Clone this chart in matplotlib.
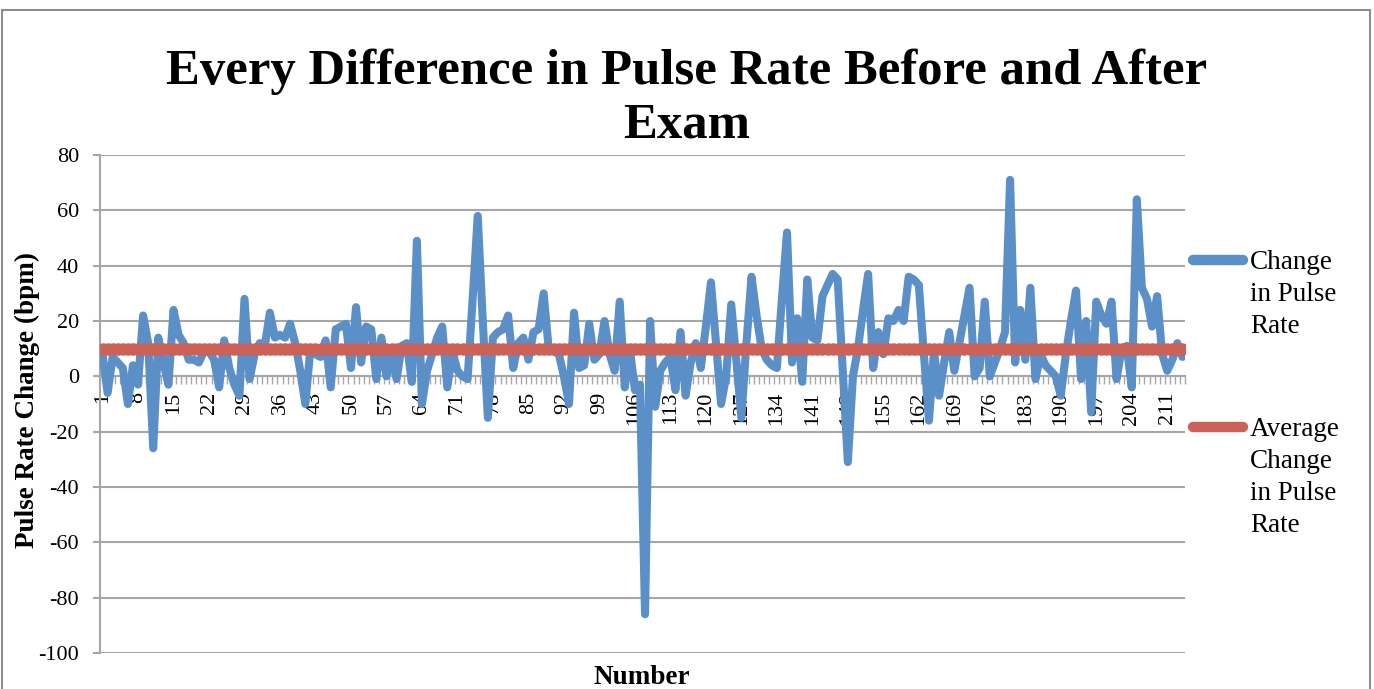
import matplotlib.pyplot as plt
import numpy as np
from matplotlib.lines import Line2D
from matplotlib.patches import Rectangle

# change in pulse rate (bpm) for each student
pulse_change = [
    8, -6, 7, 5, 3, -10, 4, -3, 22, 12, -26, 14, 5, -3, 24, 15, 12, 6, 6, 5,
    9, 9, 6, -4, 13, 3, -3, -7, 28, -1, 8, 12, 11, 23, 14, 15, 14, 19, 12, 2,
    -10, 10, 8, 7, 13, -4, 17, 18, 19, 3, 25, 5, 18, 17, -1, 14, 0, 8, -1, 11,
    12, -2, 49, -10, 2, 8, 14, 18, -4, 9, 2, 0, -1, 28, 58, 20, -15, 14, 16, 17,
    22, 3, 12, 14, 6, 16, 17, 30, 10, 9, 8, 0, -10, 23, 3, 4, 19, 6, 8, 20,
    8, 2, 27, -4, 10, -5, -3, -86, 20, -11, 2, 5, 7, -5, 16, -7, 5, 12, 3, 18,
    34, 12, -10, 0, 26, 6, -15, 12, 36, 22, 10, 6, 4, 3, 28, 52, 5, 21, -2, 35,
    14, 13, 29, 33, 37, 35, 2, -31, 0, 10, 24, 37, 3, 16, 8, 21, 20, 24, 20, 36,
    35, 33, 8, -16, 9, -7, 5, 16, 2, 12, 22, 32, 0, 3, 27, 0, 5, 10, 16, 71,
    5, 24, 6, 32, -1, 8, 4, 2, 0, -7, 8, 20, 31, -1, 20, -13, 27, 22, 19, 27,
    -1, 10, 11, -4, 64, 32, 28, 18, 29, 8, 2, 6, 12, 7,
]
avg_change = 10.0
y_ticks = [-100, -80, -60, -40, -20, 0, 20, 40, 60, 80]
label_step = 7

title = 'Every Difference in Pulse Rate Before and After\nExam'
legend_labels = ['Change\nin Pulse\nRate', 'Average\nChange\nin Pulse\nRate']

SERIF = ['Liberation Serif', 'DejaVu Serif']
BLUE = '#5B8FC8'
RED = '#CC6158'
GRID = '#A6A6A6'

W, H = 1374, 689

n = len(pulse_change)
numbers = np.arange(1, n + 1)
average = [avg_change] * n

fig = plt.figure(figsize=(W / 100, H / 100), dpi=100)
ax = fig.add_axes([100 / W, 1 - 653 / H, (1185 - 100) / W, (653 - 155) / H])

ax.plot(numbers, pulse_change, color=BLUE, lw=5.8,
        solid_joinstyle='round', solid_capstyle='round', zorder=3)
ax.plot(numbers, average, color=RED, lw=7, marker='o', ms=8,
        mfc=RED, mec=RED, solid_capstyle='round', zorder=4)

ax.set_xlim(0.5, n + 0.5)
ax.set_ylim(-100, 80)

# y axis
ax.set_yticks(y_ticks)
ax.set_yticklabels([str(v) for v in y_ticks], family=SERIF, fontsize=16)
ax.yaxis.grid(True, color=GRID, lw=1.5)
ax.set_axisbelow(True)
ax.tick_params(axis='y', length=5, width=1.5, color=GRID, pad=10)

# x axis sits on zero
ax.spines['bottom'].set_position(('data', 0))
ax.spines['bottom'].set_color(GRID)
ax.spines['bottom'].set_linewidth(1.5)
ax.spines['left'].set_color(GRID)
ax.spines['left'].set_linewidth(1.5)
ax.spines['top'].set_visible(False)
ax.spines['right'].set_visible(False)

ax.set_xticks(numbers[::label_step])
ax.set_xticklabels([str(v) for v in numbers[::label_step]], rotation=90,
                   family=SERIF, fontsize=16)
ax.set_xticks(np.arange(0.5, n + 1, 1), minor=True)
ax.tick_params(axis='x', which='major', length=0, pad=11)
ax.tick_params(axis='x', which='minor', length=6, width=1, color=GRID)

# titles
fig.text(0.5, 1 - 49 / H, title, ha='center', va='top', family=SERIF,
         fontsize=36.5, fontweight='bold', linespacing=1.2)
fig.text(27 / W, 1 - 400 / H, 'Pulse Rate Change (bpm)', rotation=90,
         ha='center', va='center', family=SERIF, fontsize=19.5, fontweight='bold')
fig.text(642 / W, 1 - 678 / H, 'Number', ha='center', va='center',
         family=SERIF, fontsize=19.5, fontweight='bold')

# legend drawn by hand so the key sits on the first text line
for col, lab, ytop in [(BLUE, legend_labels[0], 246), (RED, legend_labels[1], 413)]:
    yl = 1 - (ytop + 14) / H
    fig.add_artist(Line2D([1193 / W, 1243 / W], [yl, yl], transform=fig.transFigure,
                          color=col, lw=7.5, solid_capstyle='round'))
    fig.text(1250 / W, 1 - (ytop + 4) / H, lab, ha='left', va='top', family=SERIF,
             fontsize=19.5, linespacing=1.37)

# chart border
fig.add_artist(Rectangle((2 / W, -0.02), 1368 / W, 1.02 - 10 / H,
                         transform=fig.transFigure, fill=False,
                         edgecolor='#8C8C8C', lw=1.5))

fig.savefig('out.png', dpi=100)
